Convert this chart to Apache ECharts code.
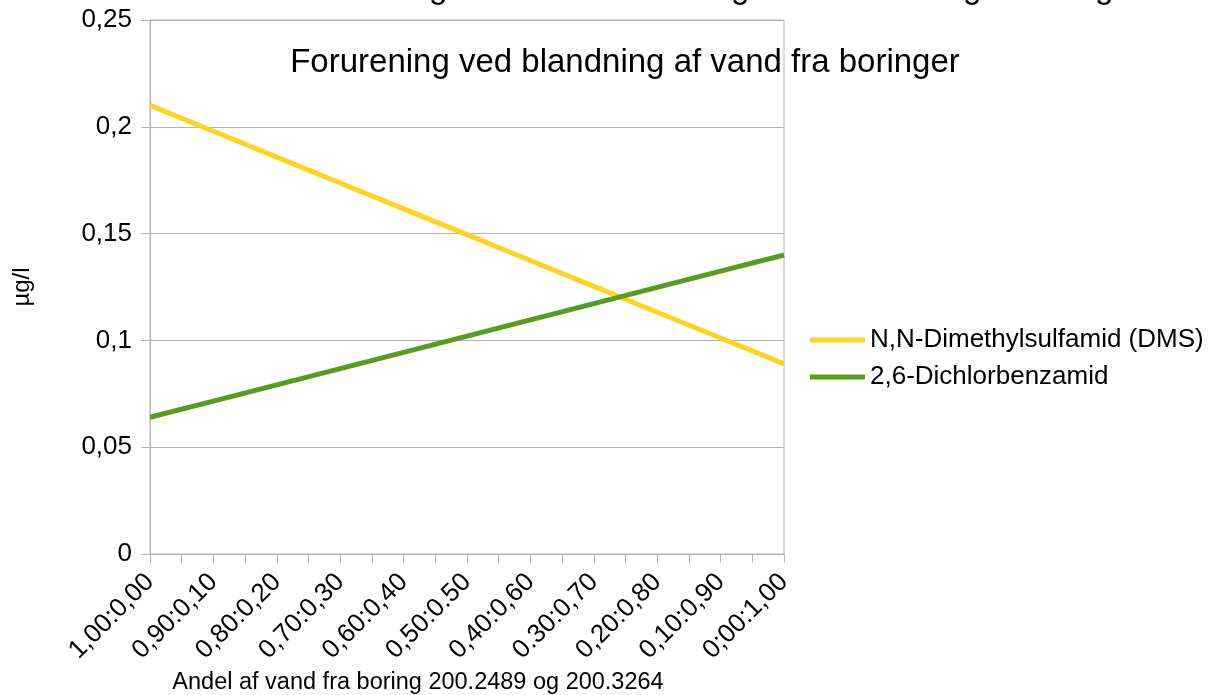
<!DOCTYPE html>
<html><head><meta charset="utf-8">
<script src="https://cdn.jsdelivr.net/npm/echarts@6/dist/echarts.min.js"></script>
<style>html,body{margin:0;padding:0;background:#fff}#c{width:1208px;height:695px}</style>
</head><body><div id="c"></div>
<script>
const categories = ['1,00:0,00','0,90:0,10','0,80:0,20','0,70:0,30','0,60:0,40','0,50:0.50','0,40:0,60','0.30:0,70','0,20:0,80','0,10:0,90','0;00:1,00'];
const fractions = [0,0.1,0.2,0.3,0.4,0.5,0.6,0.7,0.8,0.9,1.0];
const dmsValues = [0.2100,0.1979,0.1858,0.1737,0.1616,0.1495,0.1374,0.1253,0.1132,0.1011,0.0890];
const dcbValues = [0.0640,0.0716,0.0792,0.0868,0.0944,0.1020,0.1096,0.1172,0.1248,0.1324,0.1400];
const seriesNames = ['N,N-Dimethylsulfamid (DMS)','2,6-Dichlorbenzamid'];
const titleText = 'Forurening ved blandning af vand fra boringer';
const xName = 'Andel af vand fra boring 200.2489 og 200.3264';
const yName = 'µg/l';

const font = 'Liberation Sans, Arial, sans-serif';
const chart = echarts.init(document.getElementById('c'), null, {renderer:'canvas'});
const gray = '#b3b3b3';
const topG = [438, 740, 972, 1104].map(x => ({
  type:'text', left:x-9, top:-28,
  style:{text:'g', font:'33px ' + font, fill:'#000'}
}));
chart.setOption({
  animation:false,
  backgroundColor:'#fff',
  title:{text:titleText, left:620, top:41, textAlign:'center',
    textStyle:{fontFamily:font, fontSize:33, fontWeight:'normal', color:'#000'}},
  graphic: topG,
  legend:{orient:'vertical', left:805, top:322, itemWidth:55, itemHeight:5, itemGap:11,
    icon:'rect',
    textStyle:{fontFamily:font, fontSize:26, color:'#000'}, data:seriesNames},
  grid:{left:150, right:424, top:20, bottom:141, show:true, borderColor:gray, borderWidth:1,
    outerBoundsMode:'none', containLabel:false},
  xAxis:{type:'value', min:0, max:1, interval:0.1,
    name:xName, nameLocation:'middle', nameGap:117,
    nameTextStyle:{fontFamily:font, fontSize:23.5, color:'#000', padding:[0,98,0,0]},
    axisLine:{lineStyle:{color:gray}},
    axisTick:{show:true, length:9, lineStyle:{color:gray}},
    minorTick:{show:true, splitNumber:2, length:9, lineStyle:{color:gray}},
    splitLine:{show:false},
    axisLabel:{rotate:45, fontFamily:font, fontSize:26, color:'#000', margin:24,
      formatter:v => categories[Math.round(v*10)]}},
  yAxis:{type:'value', min:0, max:0.25, interval:0.05,
    name:yName, nameLocation:'middle', nameGap:116, nameRotate:90,
    nameTextStyle:{fontFamily:font, fontSize:24, color:'#000'},
    axisLine:{show:true, lineStyle:{color:gray}},
    axisTick:{show:true, length:9, lineStyle:{color:gray}},
    splitLine:{lineStyle:{color:gray}},
    axisLabel:{fontFamily:font, fontSize:26, color:'#000', margin:18,
      formatter:v => String(Number(v.toFixed(2))).replace('.', ',')}},
  series:[
    {name:seriesNames[0], type:'line', symbol:'none', color:'#ffd320',
     lineStyle:{width:5}, data:fractions.map((f,i)=>[f, dmsValues[i]])},
    {name:seriesNames[1], type:'line', symbol:'none', color:'#579d1c',
     lineStyle:{width:5}, data:fractions.map((f,i)=>[f, dcbValues[i]])}
  ]
});
</script></body></html>
